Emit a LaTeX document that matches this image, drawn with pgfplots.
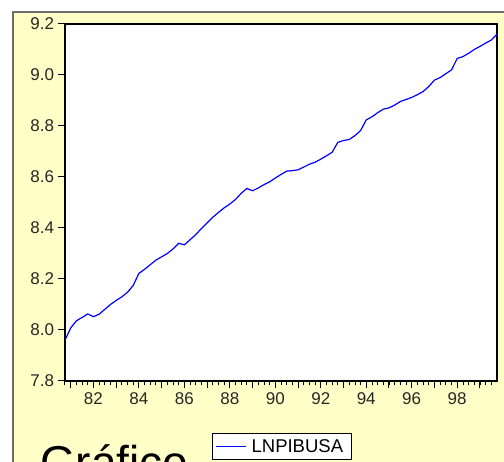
\documentclass[border=0pt]{standalone}
\usepackage{fontspec}
\setmainfont{Liberation Sans}
\usepackage{pgfplots}
\pgfplotsset{compat=1.18}
\definecolor{cream}{RGB}{255,255,200}
\definecolor{panelgray}{RGB}{110,110,110}
\begin{document}
\begin{tikzpicture}
\useasboundingbox (0pt,0pt) rectangle (504pt,462pt);
\fill[white] (0pt,0pt) rectangle (504pt,462pt);
\fill[cream] (13pt,0pt) rectangle (504pt,450pt);
\draw[panelgray, line width=1.3pt] (13pt,-5pt) -- (13pt,450pt) -- (510pt,450pt);
\begin{axis}[
  at={(65pt,81pt)}, anchor=south west,
  scale only axis, width=432pt, height=357pt,
  xmin=1980.75, xmax=1999.75, ymin=7.8, ymax=9.2,
  axis background/.style={fill=white},
  axis line style={line width=2.4pt, black},
  tick align=outside, xtick pos=bottom, ytick pos=left,
  xtick={1981,1982,...,1999},
  xticklabels={,82,,84,,86,,88,,90,,92,,94,,96,,98,},
  minor xtick={1980.75,1981.0,...,1999.75},
  major tick length=7.5pt, minor tick length=4.5pt,
  every tick/.style={black, line width=1pt},
  every minor tick/.style={black, line width=1pt},
  ytick={7.8,8.0,8.2,8.4,8.6,8.8,9.0,9.2},
  yticklabel style={/pgf/number format/fixed, /pgf/number format/fixed zerofill, /pgf/number format/precision=1, xshift=0pt},
  /pgf/number format/assume math mode=true,
  tick label style={font=\fontsize{17}{19}\selectfont, text=black!85},
  xticklabel style={yshift=-1pt},
  legend style={at={(0.3403,-0.1457)}, anchor=north west, draw=black, line width=0.8pt,
    fill=white, font=\fontsize{18.5}{20}\selectfont, inner xsep=3pt, inner ysep=3pt,
    nodes={inner xsep=5pt, inner ysep=3pt}},
  legend cell align=left,
  legend image code/.code={\draw[#1, line width=1.2pt] (0pt,0pt) -- (30pt,0pt);},
]
\addplot[blue, line width=1.2pt] table {
x y
1980.75 7.960
1981.00 8.008
1981.25 8.036
1981.50 8.049
1981.75 8.063
1982.00 8.052
1982.25 8.062
1982.50 8.081
1982.75 8.100
1983.00 8.116
1983.25 8.130
1983.50 8.148
1983.75 8.175
1984.00 8.222
1984.25 8.238
1984.50 8.256
1984.75 8.274
1985.00 8.287
1985.25 8.300
1985.50 8.318
1985.75 8.340
1986.00 8.334
1986.25 8.354
1986.50 8.374
1986.75 8.398
1987.00 8.420
1987.25 8.442
1987.50 8.461
1987.75 8.479
1988.00 8.494
1988.25 8.512
1988.50 8.536
1988.75 8.555
1989.00 8.546
1989.25 8.557
1989.50 8.570
1989.75 8.581
1990.00 8.596
1990.25 8.610
1990.50 8.623
1990.75 8.625
1991.00 8.628
1991.25 8.639
1991.50 8.650
1991.75 8.658
1992.00 8.670
1992.25 8.683
1992.50 8.697
1992.75 8.736
1993.00 8.743
1993.25 8.747
1993.50 8.762
1993.75 8.782
1994.00 8.824
1994.25 8.836
1994.50 8.852
1994.75 8.866
1995.00 8.871
1995.25 8.882
1995.50 8.896
1995.75 8.904
1996.00 8.912
1996.25 8.923
1996.50 8.935
1996.75 8.955
1997.00 8.980
1997.25 8.990
1997.50 9.005
1997.75 9.020
1998.00 9.065
1998.25 9.072
1998.50 9.085
1998.75 9.100
1999.00 9.112
1999.25 9.125
1999.50 9.137
1999.75 9.160
};
\addlegendentry{LNPIBUSA}
\end{axis}
\node[anchor=base west, inner sep=0pt, font=\fontsize{46}{50}\selectfont] at (40pt,-17pt) {Gráfico};
\end{tikzpicture}
\end{document}
